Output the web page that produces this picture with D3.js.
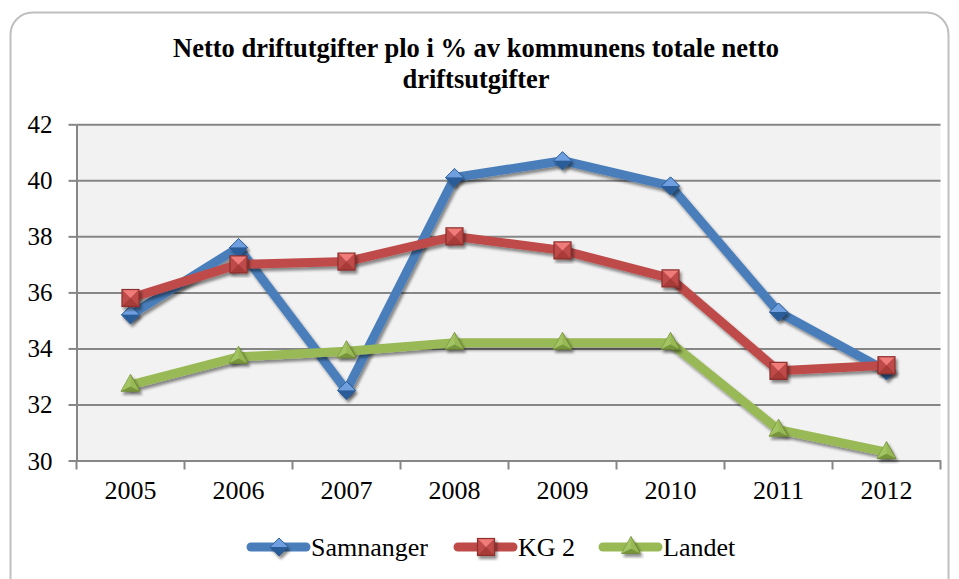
<!DOCTYPE html>
<html><head><meta charset="utf-8">
<script src="https://cdn.jsdelivr.net/npm/d3@7"></script>
<style>html,body{margin:0;padding:0;background:#fff;}svg{display:block;}</style>
</head><body>
<svg id="c" width="959" height="579"></svg>
<script>
const years = ["2005","2006","2007","2008","2009","2010","2011","2012"];
const samnanger = [35.2, 37.6, 32.5, 40.1, 40.7, 39.8, 35.3, 33.2];
const kg2 = [35.8, 37.0, 37.1, 38.0, 37.5, 36.5, 33.2, 33.4];
const landet = [32.7, 33.7, 33.9, 34.2, 34.2, 34.2, 31.1, 30.3];
const seriesNames = ["Samnanger", "KG 2", "Landet"];
const yTicks = [30, 32, 34, 36, 38, 40, 42];
const titleLines = ["Netto driftutgifter plo i % av kommunens totale netto", "driftsutgifter"];

const svg = d3.select("#c");
const font = "'Liberation Serif','Times New Roman',serif";
const L = 76.5, R = 940.5, T = 124.3, B = 460.5;

const defs = svg.append("defs");
const sh = defs.append("filter").attr("id","shadow").attr("x","-30%").attr("y","-30%").attr("width","160%").attr("height","160%");
sh.append("feGaussianBlur").attr("in","SourceAlpha").attr("stdDeviation",1.8).attr("result","b");
sh.append("feOffset").attr("in","b").attr("dx",1.5).attr("dy",2.5).attr("result","o");
sh.append("feComponentTransfer").attr("in","o").attr("result","o2").append("feFuncA").attr("type","linear").attr("slope",0.45);
const m = sh.append("feMerge"); m.append("feMergeNode").attr("in","o2"); m.append("feMergeNode").attr("in","SourceGraphic");

// outer border
svg.append("rect").attr("x",10.5).attr("y",12.5).attr("width",938).attr("height",590).attr("rx",22)
  .attr("fill","#fff").attr("stroke","#bfbfbf").attr("stroke-width",2);

// title
svg.append("g").selectAll("text").data(titleLines).join("text")
  .attr("x",476).attr("y",(d,i)=>57+i*31).attr("text-anchor","middle")
  .attr("font-family",font).attr("font-weight","bold").attr("font-size",26.5).attr("fill","#000")
  .text(d=>d);

const x = d3.scaleBand().domain(years).range([L,R]);
const y = d3.scaleLinear().domain([30,42]).range([B,T]);
const cx = d => x(d) + x.bandwidth()/2;

// plot bg
svg.append("rect").attr("x",L).attr("y",T).attr("width",R-L).attr("height",B-T).attr("fill","#f2f2f2");

// gridlines
const grid = svg.append("g").attr("transform",`translate(${L},0)`)
  .call(d3.axisLeft(y).tickValues(yTicks).tickSize(-(R-L)).tickFormat(""));
grid.select(".domain").remove();
grid.selectAll("line").attr("stroke","#868686").attr("stroke-width",2);

// y axis
const ya = svg.append("g").attr("transform",`translate(${L},0)`)
  .call(d3.axisLeft(y).tickValues(yTicks).tickSize(8).tickPadding(16).tickSizeOuter(0));
ya.select(".domain").attr("stroke","#868686").attr("stroke-width",2);
ya.selectAll("line").attr("stroke","#868686").attr("stroke-width",2);
ya.selectAll("text").attr("font-family",font).attr("font-size",25).attr("fill","#000").attr("dy","0.34em");

// x axis
const xa = svg.append("g").attr("transform",`translate(0,${B})`)
  .call(d3.axisBottom(x).tickSize(0).tickPadding(20).tickSizeOuter(0));
xa.select(".domain").attr("stroke","#868686").attr("stroke-width",2);
xa.selectAll("text").attr("font-family",font).attr("font-size",26).attr("fill","#000");
const edges = years.map(d=>x(d)).concat([R]);
svg.append("g").selectAll("line").data(edges).join("line")
  .attr("x1",d=>d).attr("x2",d=>d).attr("y1",B).attr("y2",B+9)
  .attr("stroke","#868686").attr("stroke-width",2);

const colors = ["#4a7ebb","#be4b48","#98b954"];
const dark = ["#2c5d98","#8c2f2c","#66822f"];
const light = ["#6f9fe0","#f07c79","#b5d474"];
const data = [samnanger, kg2, landet];
const shapes = ["diamond","square","triangle"];

function marker(g, shape, i, px, py) {
  const s = 9;
  const grp = g.append("g").attr("transform",`translate(${px},${py})`).attr("filter","url(#shadow)");
  if (shape === "diamond") {
    grp.append("path").attr("d",`M0,${-s}L${s},0L0,${s}L${-s},0Z`).attr("fill",colors[i]).attr("stroke",dark[i]).attr("stroke-width",0.8);
    grp.append("path").attr("d",`M0,${-s}L${s},0L0,0L${-s},0Z`).attr("fill",light[i]);
    grp.append("path").attr("d",`M0,${s}L${s},0L0,0L${-s},0Z`).attr("fill",dark[i]);
    grp.append("path").attr("d",`M0,${-s}L${s},0L0,${s}L${-s},0Z`).attr("fill","none").attr("stroke",dark[i]).attr("stroke-width",0.8);
  } else if (shape === "square") {
    const h = 8.5;
    grp.append("rect").attr("x",-h).attr("y",-h).attr("width",2*h).attr("height",2*h).attr("fill",colors[i]);
    grp.append("path").attr("d",`M${-h},${-h}L${h},${-h}L0,0Z`).attr("fill",light[i]);
    grp.append("path").attr("d",`M${-h},${h}L${h},${h}L0,0Z`).attr("fill","#a63a37");
    grp.append("rect").attr("x",-h).attr("y",-h).attr("width",2*h).attr("height",2*h).attr("fill","none").attr("stroke",dark[i]).attr("stroke-width",1.2);
  } else {
    const w = 9.5, ht = 17;
    grp.append("path").attr("d",`M0,${-ht*0.62}L${w},${ht*0.38}L${-w},${ht*0.38}Z`).attr("fill",colors[i]).attr("stroke",dark[i]).attr("stroke-width",0.8);
    grp.append("path").attr("d",`M0,${-ht*0.62}L0,${ht*0.1}L${-w},${ht*0.38}Z`).attr("fill","#a6c766").attr("opacity",0.8);
    grp.append("path").attr("d",`M0,${ht*0.1}L${w},${ht*0.38}L${-w},${ht*0.38}Z`).attr("fill","#6f8c36").attr("opacity",0.8);
  }
}

const line = d3.line().x((d,j)=>cx(years[j])).y(d=>y(d));
data.forEach((vals,i)=>{
  const g = svg.append("g");
  g.append("path").datum(vals).attr("d",line).attr("fill","none").attr("stroke",colors[i])
    .attr("stroke-width",9).attr("stroke-linejoin","round").attr("stroke-linecap","round").attr("filter","url(#shadow)");
  vals.forEach((v,j)=>marker(g, shapes[i], i, cx(years[j]), y(v)));
});

// legend
const legX = [249, 456, 601];
const leg = svg.append("g");
seriesNames.forEach((n,i)=>{
  const g = leg.append("g");
  g.append("line").attr("x1",legX[i]+2).attr("x2",legX[i]+57).attr("y1",547).attr("y2",547)
    .attr("stroke",colors[i]).attr("stroke-width",9).attr("stroke-linecap","round");
  marker(g, shapes[i], i, legX[i]+30, 547);
  g.append("text").attr("x",legX[i]+62).attr("y",556).attr("font-family",font).attr("font-size",26).attr("fill","#000").text(n);
});
</script>
</body></html>
